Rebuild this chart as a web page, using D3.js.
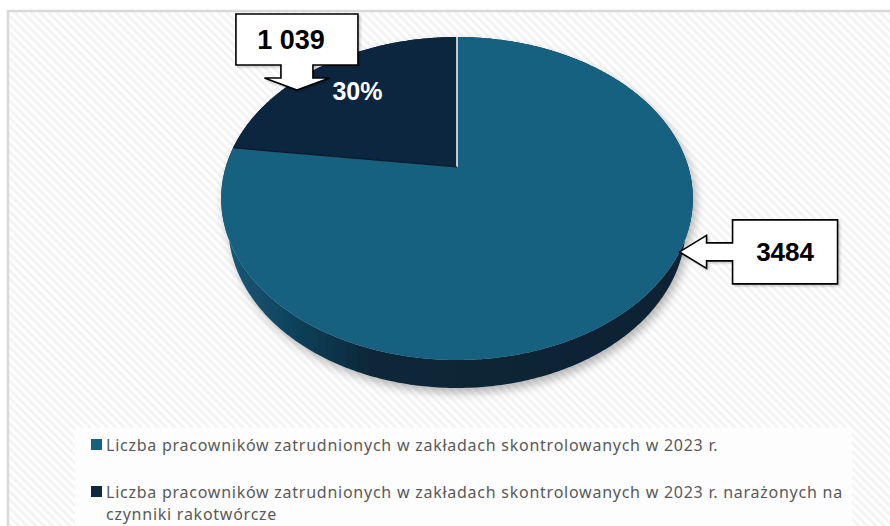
<!DOCTYPE html>
<html><head><meta charset="utf-8">
<script src="https://cdn.jsdelivr.net/npm/d3@7"></script>
<style>html,body{margin:0;padding:0;background:#fff;} svg{display:block}</style>
</head><body>
<svg id="chart" width="890" height="526"></svg>
<script>
// ---- data ----
const categories = [
  "Liczba pracowników zatrudnionych w zakładach skontrolowanych w 2023 r.",
  "Liczba pracowników zatrudnionych w zakładach skontrolowanych w 2023 r. narażonych na czynniki rakotwórcze"
];
const values = [3484, 1039];
const valueLabels = ["3484", "1 039"];
const faceColors = ["#166080", "#10283f"];
const sideStops = [["#155a7a", "#0b2738", "#0a2232"], ["#0d2236", "#091a2a", "#091a2a"]];
const edgeColors = ["#c9c9c9", "#0a1826"];

// ---- geometry ----
const W = 890, H = 526;
const svg = d3.select("#chart");
const defs = svg.append("defs");

// background stripes
const pat = defs.append("pattern").attr("id", "stripes").attr("patternUnits", "userSpaceOnUse")
  .attr("width", 6).attr("height", 6).attr("patternTransform", "rotate(-45)");
pat.append("rect").attr("width", 6).attr("height", 6).attr("fill", "#ffffff");
pat.append("rect").attr("width", 3).attr("height", 6).attr("fill", "#f4f4f4");

svg.append("rect").attr("width", W).attr("height", H).attr("fill", "#fff");
svg.append("rect").attr("x", 8).attr("y", 11).attr("width", W + 20).attr("height", H + 20)
  .attr("fill", "url(#stripes)").attr("stroke", "#d9d9d9").attr("stroke-width", 2.5);

// perspective projection of a 3D pie
const cx = 457, cy = 167, d0 = 3.80, f = 879, alpha = Math.asin(0.6716), thick = 0.1704;
function proj(phi, r, w) {
  const u = r * Math.sin(phi), v = r * Math.cos(phi);
  const Y = w * Math.cos(alpha) + v * Math.sin(alpha);
  const Z = d0 + v * Math.cos(alpha) - w * Math.sin(alpha);
  return [cx + f * u / Z, cy - f * Y / Z];
}
const pie = d3.pie().sort(null).startAngle(0).endAngle(2 * Math.PI);
const arcs = pie(values);

function samples(a0, a1) {
  const n = Math.max(2, Math.ceil((a1 - a0) / 0.01));
  return d3.range(n + 1).map(i => a0 + (a1 - a0) * i / n);
}
const line = d3.line();

// shadow filter
const flt = defs.append("filter").attr("id", "shadow").attr("x", "-20%").attr("y", "-20%").attr("width", "140%").attr("height", "150%");
flt.append("feDropShadow").attr("dx", 3).attr("dy", 5).attr("stdDeviation", 5)
  .attr("flood-color", "#000").attr("flood-opacity", 0.28);

// side gradients
const xs = d3.scaleLinear().domain([0, 1]).range([cx - 235, cx + 235]);
arcs.forEach((a, i) => {
  const g = defs.append("linearGradient").attr("id", "side" + i).attr("gradientUnits", "userSpaceOnUse")
    .attr("x1", xs(0)).attr("x2", xs(1)).attr("y1", 0).attr("y2", 0);
  g.append("stop").attr("offset", 0).attr("stop-color", sideStops[i][0]);
  g.append("stop").attr("offset", 0.32).attr("stop-color", sideStops[i][1]);
  g.append("stop").attr("offset", 1).attr("stop-color", sideStops[i][2]);
});

const pieG = svg.append("g").attr("filter", "url(#shadow)");
// walls
pieG.selectAll("path.wall").data(arcs).join("path").attr("class", "wall")
  .attr("d", a => {
    const s = samples(a.startAngle, a.endAngle);
    const top = s.map(p => proj(p, 1, 0));
    const bot = s.slice().reverse().map(p => proj(p, 1, -thick));
    return line(top.concat(bot)) + "Z";
  })
  .attr("fill", (a, i) => `url(#side${i})`);
// top faces
pieG.selectAll("path.face").data(arcs).join("path").attr("class", "face")
  .attr("d", a => {
    const s = samples(a.startAngle, a.endAngle);
    return line([proj(0, 0, 0)].concat(s.map(p => proj(p, 1, 0)))) + "Z";
  })
  .attr("fill", (a, i) => faceColors[i]);
// radial edges
svg.selectAll("line.edge").data(arcs).join("line").attr("class", "edge")
  .attr("x1", proj(0, 0, 0)[0]).attr("y1", proj(0, 0, 0)[1])
  .attr("x2", a => proj(a.startAngle, 1, 0)[0]).attr("y2", a => proj(a.startAngle, 1, 0)[1])
  .attr("stroke", (a, i) => edgeColors[i]).attr("stroke-width", (a, i) => i === 0 ? 2 : 1.2);

// percentage label in dark slice
const pct = Math.round(values[1] / values[0] * 100) + "%";
const mid1 = (arcs[1].startAngle + arcs[1].endAngle) / 2;
const pp = proj(mid1, 0.72, 0);
svg.append("text").attr("x", pp[0]).attr("y", pp[1]).attr("dy", "0.36em")
  .attr("text-anchor", "middle").attr("fill", "#fff")
  .attr("font-family", "Liberation Sans, Arial, sans-serif").attr("font-weight", "bold").attr("font-size", 25)
  .text(pct);

// callouts
const callShadow = defs.append("filter").attr("id", "cshadow").attr("x", "-20%").attr("y", "-20%").attr("width", "140%").attr("height", "140%");
callShadow.append("feDropShadow").attr("dx", 1.5).attr("dy", 1.5).attr("stdDeviation", 1.2)
  .attr("flood-color", "#000").attr("flood-opacity", 0.22);

function downCallout(tip, bw, bh, stemW, headW, stemL, headL, textDx) {
  const [tx, ty] = tip;
  const headY = ty - headL, boxB = headY - stemL, boxT = boxB - bh;
  const bx0 = tx - bw / 2, bx1 = tx + bw / 2;
  const p = d3.path();
  p.moveTo(bx0, boxT); p.lineTo(bx1, boxT); p.lineTo(bx1, boxB);
  p.lineTo(tx + stemW / 2, boxB); p.lineTo(tx + stemW / 2, headY); p.lineTo(tx + headW / 2, headY);
  p.lineTo(tx, ty); p.lineTo(tx - headW / 2, headY); p.lineTo(tx - stemW / 2, headY);
  p.lineTo(tx - stemW / 2, boxB); p.lineTo(bx0, boxB); p.closePath();
  return { d: p.toString(), tx: tx + textDx, ty: (boxT + boxB) / 2 };
}
function leftCallout(tip, bw, bh, stemW, headW, stemL, headL, textDx) {
  const [tx, ty] = tip;
  const headX = tx + headL, boxL = headX + stemL, boxR = boxL + bw;
  const by0 = ty - bh / 2, by1 = ty + bh / 2;
  const p = d3.path();
  p.moveTo(boxL, by0); p.lineTo(boxR, by0); p.lineTo(boxR, by1); p.lineTo(boxL, by1);
  p.lineTo(boxL, ty + stemW / 2); p.lineTo(headX, ty + stemW / 2); p.lineTo(headX, ty + headW / 2);
  p.lineTo(tx, ty); p.lineTo(headX, ty - headW / 2); p.lineTo(headX, ty - stemW / 2);
  p.lineTo(boxL, ty - stemW / 2); p.closePath();
  return { d: p.toString(), tx: (boxL + boxR) / 2 + textDx, ty: ty };
}
const c0 = leftCallout(proj(119.6 * Math.PI / 180, 1, 0), 105, 64, 18, 33, 26, 27, 0);
const c1 = downCallout(proj(-54.4 * Math.PI / 180, 0.942, 0), 122, 51, 32, 65, 13, 12, -6);
[c0, c1].forEach((c, i) => {
  svg.append("path").attr("d", c.d).attr("fill", "#fff").attr("stroke", "#000")
    .attr("stroke-width", 1.6).attr("stroke-linejoin", "miter").attr("filter", "url(#cshadow)");
  svg.append("text").attr("x", c.tx).attr("y", c.ty).attr("dy", "0.36em").attr("text-anchor", "middle")
    .attr("font-family", "Liberation Sans, Arial, sans-serif").attr("font-weight", "bold")
    .attr("font-size", i === 0 ? 26 : 27).attr("fill", "#000").text(valueLabels[i]);
});

// legend
const legG = svg.append("g");
legG.append("rect").attr("x", 75).attr("y", 428).attr("width", 777).attr("height", 120).attr("fill", "#fdfdfd");
const legFont = 16, lineH = 22, wrapW = 750;
const legY = [451, 498];
categories.forEach((cat, i) => {
  legG.append("rect").attr("x", 91).attr("y", legY[i] - 12).attr("width", 11).attr("height", 11).attr("fill", faceColors[i]);
  const t = legG.append("text").attr("x", 106).attr("y", legY[i]).attr("fill", "#595959")
    .attr("font-family", "Noto Sans, sans-serif").attr("font-size", legFont).attr("letter-spacing", 0.75);
  const words = cat.split(" ");
  let ln = [], ts = t.append("tspan").attr("x", 106).attr("dy", 0);
  words.forEach(w => {
    ln.push(w); ts.text(ln.join(" "));
    if (ts.node().getComputedTextLength() > wrapW && ln.length > 1) {
      ln.pop(); ts.text(ln.join(" ")); ln = [w];
      ts = t.append("tspan").attr("x", 106).attr("dy", lineH).text(w);
    }
  });
});
</script>
</body></html>
